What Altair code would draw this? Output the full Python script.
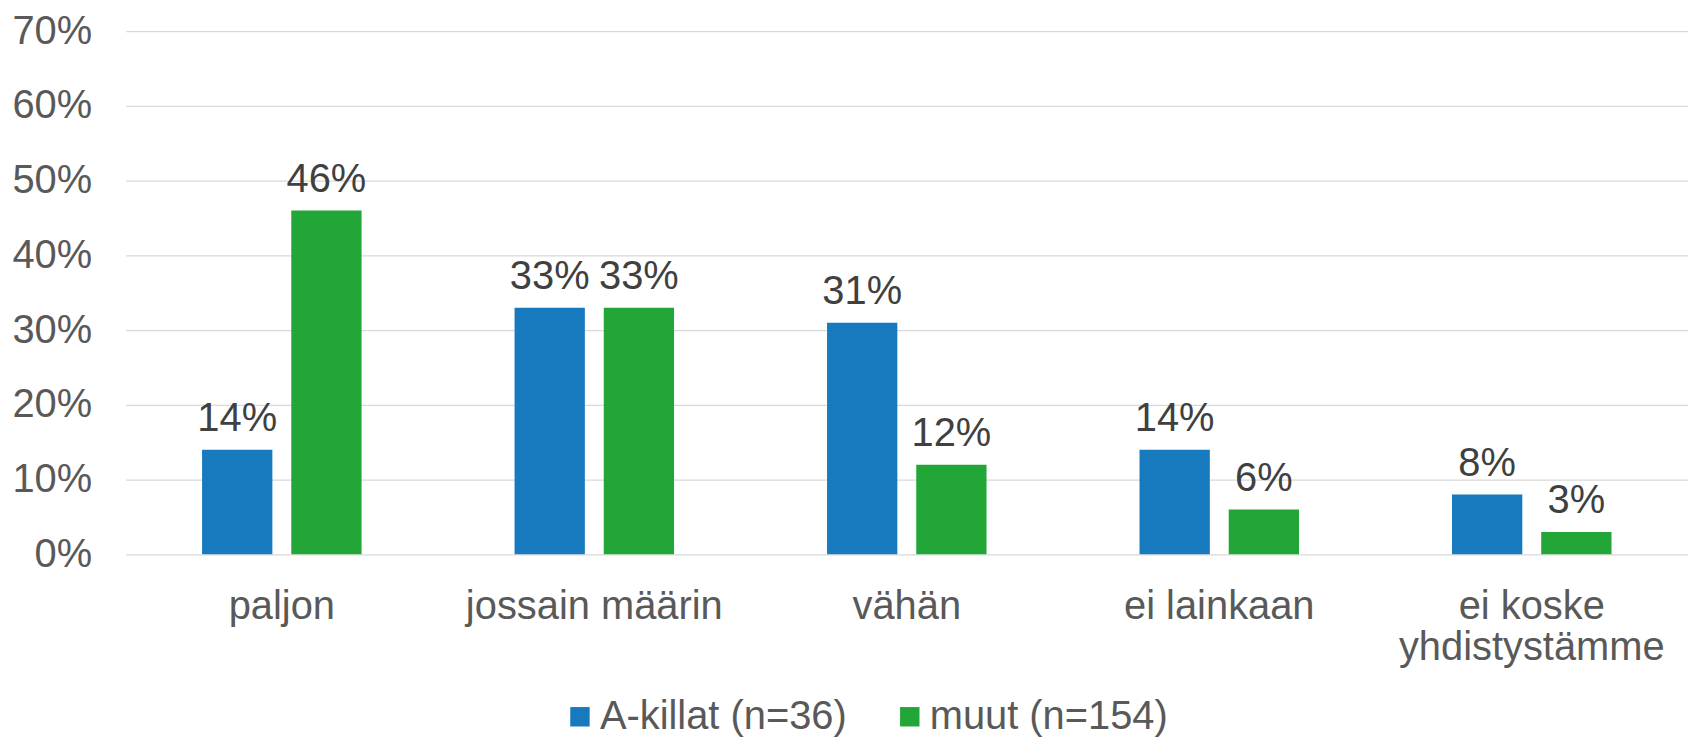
import altair as alt
import pandas as pd

categories = ["paljon", "jossain määrin", "vähän", "ei lainkaan", "ei koske\nyhdistystämme"]
series = ["A-killat (n=36)", "muut (n=154)"]
a_killat = [0.14, 0.33, 0.31, 0.14, 0.08]
muut = [0.46, 0.33, 0.12, 0.06, 0.03]
colors = ["#177ABF", "#21A637"]
y_ticks = [0.0, 0.1, 0.2, 0.3, 0.4, 0.5, 0.6, 0.7]

rows = []
for c, a, m in zip(categories, a_killat, muut):
    rows.append({"category": c, "series": series[0], "value": a})
    rows.append({"category": c, "series": series[1], "value": m})
df = pd.DataFrame(rows)

FONT = "Liberation Sans"
FS = 40

x = alt.X(
    "category:N",
    sort=categories,
    scale=alt.Scale(paddingInner=0.4896, paddingOuter=0.2448),
    axis=alt.Axis(
        title=None,
        labelExpr="split(datum.label, '\\n')",
        labelAngle=0,
        labelFont=FONT,
        labelFontSize=FS,
        labelColor="#595959",
        labelPadding=32,
        labelLineHeight=42,
        labelLimit=0,
        ticks=False,
        domain=False,
        grid=False,
    ),
)
xoff = alt.XOffset("series:N", sort=series, scale=alt.Scale(paddingInner=0.212, paddingOuter=0))
y = alt.Y(
    "value:Q",
    scale=alt.Scale(domain=[0, 0.7], nice=False),
    axis=alt.Axis(
        title=None,
        values=y_ticks,
        format=".0%",
        labelFont=FONT,
        labelFontSize=FS,
        labelColor="#595959",
        labelPadding=34,
        labelLimit=0,
        ticks=False,
        domain=False,
        grid=True,
        gridColor="#d9d9d9",
        gridWidth=1.3,
    ),
)
color = alt.Color(
    "series:N",
    sort=series,
    scale=alt.Scale(domain=series, range=colors),
    legend=alt.Legend(
        title=None,
        orient="none",
        legendX=436,
        legendY=668,
        direction="horizontal",
        symbolType="square",
        symbolSize=380,
        symbolStrokeWidth=0,
        labelFont=FONT,
        labelFontSize=FS,
        labelColor="#595959",
        labelOffset=0,
        labelLimit=0,
        columnPadding=43,
        padding=0,
    ),
)

bars = alt.Chart(df).mark_bar().encode(x=x, xOffset=xoff, y=y, color=color)
labels = alt.Chart(df).mark_text(
    dy=-19, baseline="alphabetic", font=FONT, fontSize=FS, color="#404040"
).encode(x=x, xOffset=xoff, y=y, text=alt.Text("value:Q", format=".0%"))

chart = (
    alt.layer(bars, labels)
    .properties(
        width=1568,
        height=525,
        autosize=alt.AutoSizeParams(type="none"),
        padding={"left": 118, "top": 22, "right": 0, "bottom": 182},
    )
    .configure_view(stroke=None)
)

chart.save("out.html", embed_options={"renderer": "svg", "actions": False})
